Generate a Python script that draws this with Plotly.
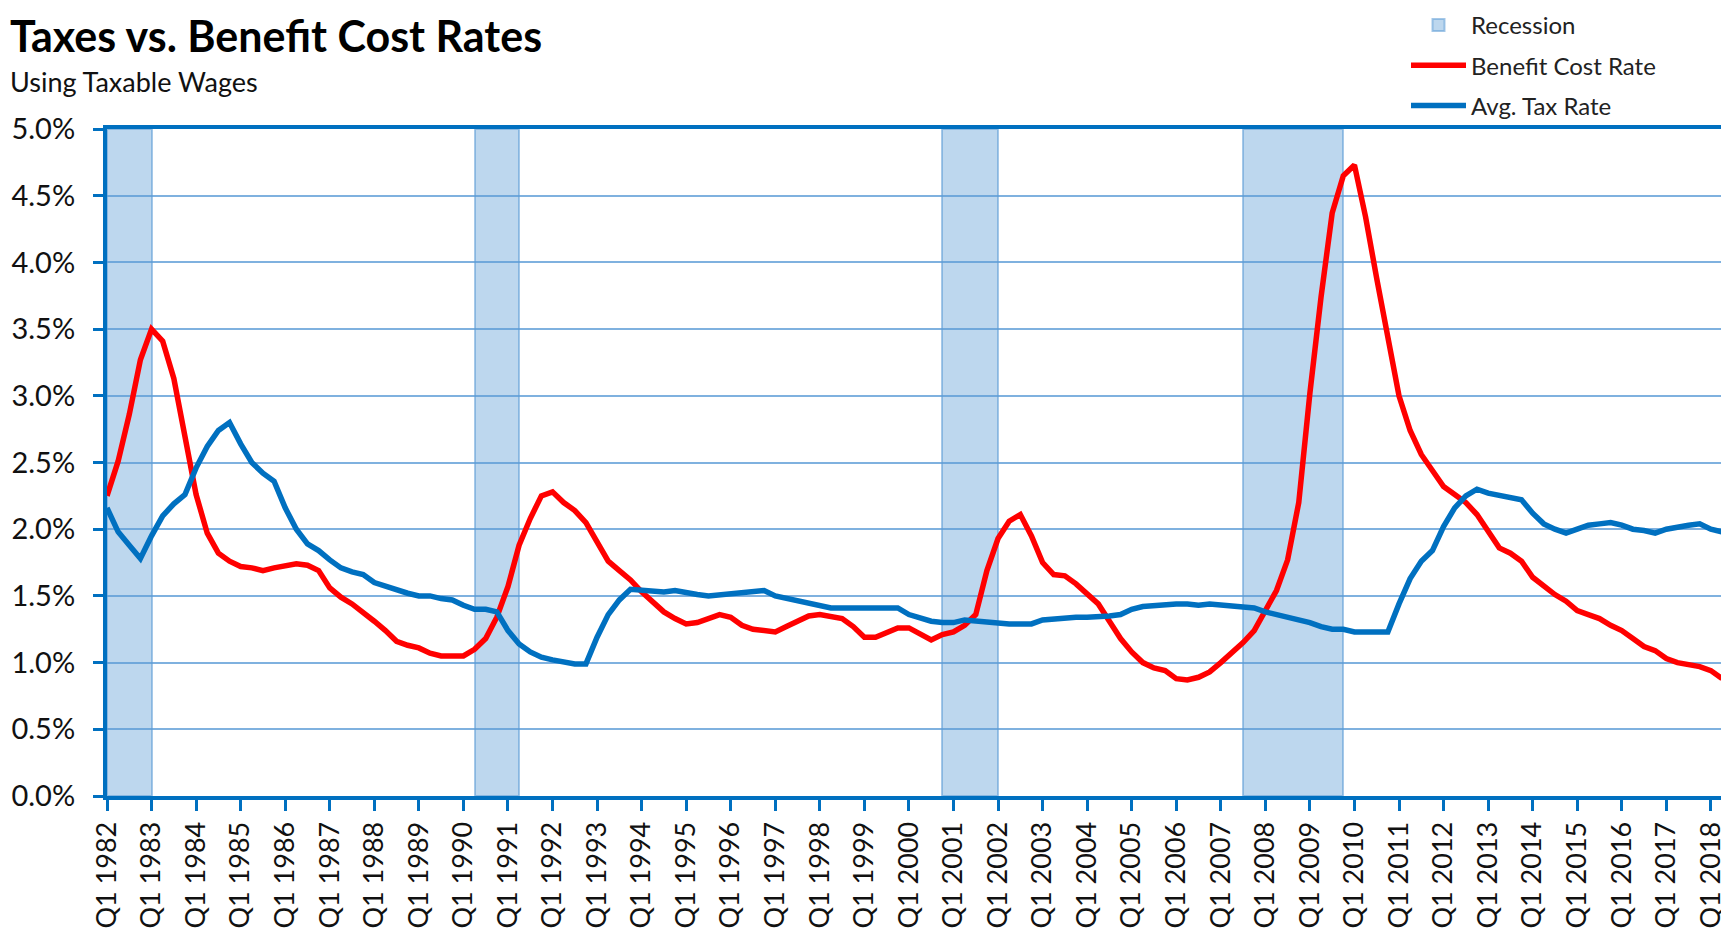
import plotly.graph_objects as go

# ---------------- data ----------------
years = list(range(1982, 2019))
quarters = [f"Q{q} {y}" for y in years for q in range(1, 5)][:146]   # Q1 1982 .. Q2 2018

benefit_cost_rate = [
    2.25, 2.51, 2.86, 3.27, 3.50, 3.41, 3.13, 2.69, 2.26, 1.97,
    1.82, 1.76, 1.72, 1.71, 1.69, 1.71, 1.73, 1.74, 1.73, 1.69,
    1.56, 1.49, 1.44, 1.38, 1.31, 1.24, 1.16, 1.13, 1.11, 1.07,
    1.05, 1.05, 1.05, 1.10, 1.18, 1.34, 1.57, 1.88, 2.08, 2.25,
    2.28, 2.20, 2.14, 2.05, 1.90, 1.76, 1.69, 1.62, 1.53, 1.46,
    1.38, 1.33, 1.29, 1.30, 1.33, 1.36, 1.34, 1.28, 1.25, 1.24,
    1.23, 1.27, 1.31, 1.35, 1.36, 1.35, 1.33, 1.27, 1.19, 1.19,
    1.23, 1.26, 1.26, 1.22, 1.17, 1.21, 1.23, 1.28, 1.36, 1.69,
    1.93, 2.06, 2.11, 1.95, 1.75, 1.66, 1.65, 1.59, 1.51, 1.44,
    1.31, 1.18, 1.08, 1.00, 0.96, 0.94, 0.88, 0.87, 0.89, 0.93,
    1.00, 1.07, 1.15, 1.24, 1.38, 1.54, 1.77, 2.20, 3.02, 3.74,
    4.37, 4.65, 4.73, 4.34, 3.88, 3.45, 3.00, 2.74, 2.56, 2.44,
    2.32, 2.26, 2.20, 2.11, 1.98, 1.86, 1.82, 1.76, 1.64, 1.57,
    1.51, 1.46, 1.39, 1.36, 1.33, 1.28, 1.24, 1.18, 1.12, 1.09,
    1.03, 1.00, 0.99, 0.97, 0.94, 0.88,
]

avg_tax_rate = [
    2.16, 1.98, 1.88, 1.78, 1.95, 2.10, 2.19, 2.26, 2.46, 2.62,
    2.74, 2.80, 2.64, 2.50, 2.42, 2.36, 2.16, 2.00, 1.89, 1.84,
    1.77, 1.71, 1.68, 1.66, 1.60, 1.57, 1.54, 1.52, 1.50, 1.50,
    1.48, 1.47, 1.43, 1.40, 1.40, 1.38, 1.24, 1.14, 1.08, 1.04,
    1.02, 1.00, 0.99, 0.99, 1.19, 1.36, 1.47, 1.55, 1.54, 1.53,
    1.53, 1.54, 1.52, 1.51, 1.50, 1.51, 1.52, 1.53, 1.54, 1.54,
    1.50, 1.48, 1.46, 1.45, 1.43, 1.41, 1.41, 1.41, 1.42, 1.42,
    1.42, 1.41, 1.36, 1.33, 1.31, 1.30, 1.30, 1.32, 1.31, 1.30,
    1.29, 1.29, 1.29, 1.29, 1.32, 1.33, 1.34, 1.34, 1.34, 1.34,
    1.35, 1.36, 1.40, 1.42, 1.43, 1.44, 1.44, 1.44, 1.43, 1.44,
    1.43, 1.42, 1.41, 1.41, 1.38, 1.36, 1.34, 1.33, 1.30, 1.27,
    1.25, 1.25, 1.23, 1.23, 1.23, 1.23, 1.44, 1.63, 1.76, 1.84,
    2.02, 2.16, 2.25, 2.30, 2.27, 2.25, 2.24, 2.22, 2.12, 2.04,
    2.00, 1.97, 2.00, 2.03, 2.04, 2.05, 2.03, 2.00, 1.99, 1.97,
    2.00, 2.02, 2.03, 2.04, 2.00, 1.98,
]

# recession periods (first and last shaded quarter)
recession_start = ["Q1 1982", "Q2 1990", "Q4 2000", "Q3 2007"]
recession_end = ["Q4 1982", "Q1 1991", "Q4 2001", "Q3 2009"]
recession_level = 5.0   # shading reaches the top of the value axis

tick_labels = [q for q in quarters if q.startswith("Q1")]

# ---------------- derived positions ----------------
x_idx = list(range(len(quarters)))
tick_pos = [quarters.index(t) for t in tick_labels]
rec_center, rec_width = [], []
for s, e in zip(recession_start, recession_end):
    a, b = quarters.index(s), quarters.index(e) + 1
    rec_center.append((a + b) / 2)
    rec_width.append(b - a)

AXIS_BLUE = "#0070C0"
GRID_BLUE = "#7FB1DF"
FONT = "Lato"
ML, MR, MT, MB = 99, 15, 121, 146
PLOT_W = 1729 - ML - MR
PLOT_H = 934 - MT - MB

fig = go.Figure()
fig.add_trace(go.Bar(
    x=rec_center, y=[recession_level] * len(rec_center), width=rec_width,
    name="Recession", legendgroup="r",
    marker=dict(color="rgba(91,155,213,0.40)", line=dict(color="rgba(91,155,213,0.55)", width=2)),
    hoverinfo="skip",
))
fig.add_trace(go.Scatter(
    x=x_idx, y=benefit_cost_rate, mode="lines", name="Benefit Cost Rate", legendgroup="b",
    line=dict(color="#FF0000", width=5.5),
    customdata=quarters, hovertemplate="%{customdata}: %{y:.2f}%<extra></extra>",
))
fig.add_trace(go.Scatter(
    x=x_idx, y=avg_tax_rate, mode="lines", name="Avg. Tax Rate", legendgroup="t",
    line=dict(color=AXIS_BLUE, width=5.5),
    customdata=quarters, hovertemplate="%{customdata}: %{y:.2f}%<extra></extra>",
))

fig.update_layout(
    width=1729, height=934,
    margin=dict(l=ML, r=MR, t=MT, b=MB, autoexpand=False),
    paper_bgcolor="white", plot_bgcolor="white",
    font=dict(family=FONT, color="#111111"),
    bargap=0,
    showlegend=True,
    legend=dict(
        xref="container", yref="paper",
        x=1398 / 1729, xanchor="left", y=1 + (MT + 5) / PLOT_H, yanchor="top",
        font=dict(family=FONT, size=24, color="#222222"),
        bgcolor="rgba(0,0,0,0)", tracegroupgap=6, itemwidth=55,
        traceorder="grouped",
    ),
    xaxis=dict(
        range=[0, len(quarters) - 1], automargin=False,
        tickmode="array", tickvals=tick_pos, ticktext=tick_labels,
        tickangle=-90, tickfont=dict(family=FONT, size=27, color="#111111"),
        ticks="outside", ticklen=11, tickwidth=3, tickcolor=AXIS_BLUE,
        showline=True, linecolor=AXIS_BLUE, linewidth=4, mirror=True,
        showgrid=False, zeroline=False,
    ),
    xaxis2=dict(
        overlaying="x", anchor="y", side="bottom", automargin=False,
        range=[0, len(quarters) - 1],
        tickmode="array", tickvals=tick_pos, showticklabels=False,
        ticks="inside", ticklen=9, tickwidth=3, tickcolor=AXIS_BLUE,
        showline=False, showgrid=False, zeroline=False,
    ),
    yaxis=dict(
        range=[0, 5.0], dtick=0.5, tick0=0, tickformat=".1f", ticksuffix="%",
        automargin=False,
        tickfont=dict(family=FONT, size=29, color="#111111"),
        ticks="outside", ticklen=10, tickwidth=3, tickcolor=AXIS_BLUE,
        ticklabelstandoff=12,
        showline=True, linecolor=AXIS_BLUE, linewidth=4, mirror=True,
        showgrid=True, gridcolor=GRID_BLUE, gridwidth=1.5, zeroline=False,
    ),
    annotations=[
        dict(text="<b>Taxes vs. Benefit Cost Rates</b>", xref="paper", yref="paper",
             x=-ML / PLOT_W, xanchor="left", y=1 + MT / PLOT_H, yanchor="top",
             showarrow=False, font=dict(family=FONT, size=43, color="#000000")),
        dict(text="Using Taxable Wages", xref="paper", yref="paper",
             x=-ML / PLOT_W, xanchor="left", y=1.071, yanchor="middle",
             showarrow=False, font=dict(family=FONT, size=27, color="#111111")),
    ],
)

fig.write_html("out.html")
